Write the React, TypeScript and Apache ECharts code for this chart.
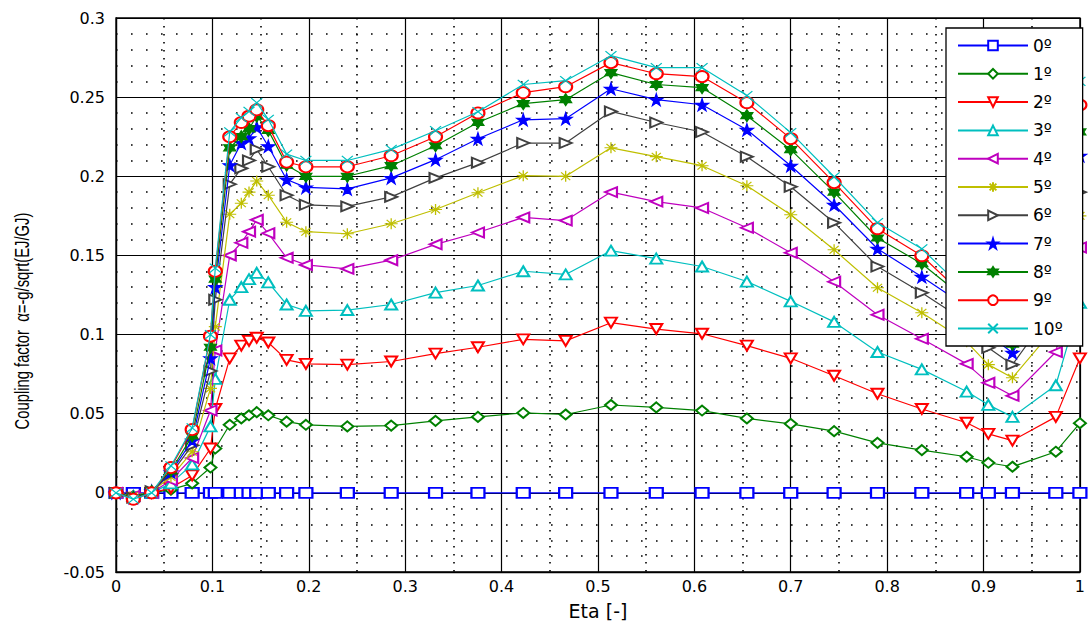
import React, { useEffect, useRef } from "react";
import * as echarts from "echarts";

// Spanwise stations (eta) shared by every curve
const ETA = [
  0, 0.018, 0.037, 0.057, 0.079, 0.098, 0.103, 0.118, 0.13, 0.138, 0.146,
  0.158, 0.177, 0.197, 0.24, 0.2855, 0.3315, 0.3755, 0.4225, 0.4665, 0.5135,
  0.5605, 0.608, 0.6545, 0.7, 0.745, 0.79, 0.836, 0.8825, 0.905, 0.93, 0.975,
  1.0,
];

// Coupling factor per fibre angle
const alpha0 = [
  0, 0, 0, 0, 0, 0, 0, 0, 0, 0, 0, 0, 0, 0, 0, 0, 0, 0, 0, 0, 0, 0, 0, 0, 0,
  0, 0, 0, 0, 0, 0, 0, 0,
];
const alpha1 = [
  0, -0.002, 0, 0.002, 0.006, 0.016, 0.028, 0.043, 0.047, 0.049, 0.051, 0.049,
  0.045, 0.043, 0.042, 0.0425, 0.0455, 0.048, 0.0505, 0.0495, 0.0555, 0.054,
  0.052, 0.047, 0.0436, 0.039, 0.0316, 0.027, 0.0228, 0.019, 0.0165, 0.026,
  0.044,
];
const alpha2 = [
  0, -0.003, 0, 0.003, 0.011, 0.028, 0.053, 0.085, 0.093, 0.096, 0.098, 0.095,
  0.084, 0.0815, 0.081, 0.083, 0.088, 0.092, 0.097, 0.096, 0.1075, 0.1035,
  0.1005, 0.093, 0.085, 0.074, 0.0626, 0.053, 0.0443, 0.0373, 0.033, 0.048,
  0.085,
];
const alpha3 = [
  0, -0.002, 0, 0.006, 0.018, 0.042, 0.072, 0.122, 0.13, 0.135, 0.139, 0.133,
  0.119, 0.115, 0.1155, 0.119, 0.1265, 0.131, 0.14, 0.138, 0.153, 0.148,
  0.143, 0.1335, 0.121, 0.108, 0.089, 0.078, 0.064, 0.0556, 0.048, 0.068,
  0.12,
];
const alpha4 = [
  0, -0.002, 0, 0.008, 0.022, 0.052, 0.09, 0.15, 0.158, 0.165, 0.1725, 0.164,
  0.1485, 0.144, 0.1415, 0.147, 0.157, 0.1645, 0.174, 0.172, 0.19, 0.184,
  0.18, 0.1675, 0.1517, 0.1334, 0.1125, 0.0973, 0.0815, 0.0695, 0.0613,
  0.089, 0.155,
];
const alpha5 = [
  0, -0.002, 0.001, 0.01, 0.026, 0.066, 0.105, 0.176, 0.183, 0.19, 0.197,
  0.188, 0.171, 0.165, 0.1637, 0.17, 0.179, 0.1896, 0.2004, 0.2, 0.218,
  0.2124, 0.2067, 0.194, 0.1757, 0.1536, 0.1296, 0.1138, 0.0954, 0.081,
  0.0727, 0.105, 0.175,
];
const alpha6 = [
  0, -0.003, 0.001, 0.012, 0.03, 0.077, 0.122, 0.195, 0.205, 0.21, 0.217,
  0.206, 0.188, 0.182, 0.181, 0.187, 0.199, 0.2086, 0.221, 0.221, 0.241,
  0.234, 0.228, 0.2124, 0.1934, 0.1707, 0.143, 0.1264, 0.108, 0.0917, 0.081,
  0.119, 0.19,
];
const alpha7 = [
  0, -0.003, 0.001, 0.013, 0.033, 0.085, 0.13, 0.207, 0.221, 0.224, 0.231,
  0.219, 0.198, 0.193, 0.192, 0.199, 0.2105, 0.2237, 0.2357, 0.2364, 0.2553,
  0.2484, 0.2452, 0.2294, 0.2067, 0.182, 0.1542, 0.1365, 0.1176, 0.1, 0.0885,
  0.135, 0.213,
];
const alpha8 = [
  0, -0.003, 0.001, 0.014, 0.036, 0.092, 0.135, 0.218, 0.225, 0.23, 0.238,
  0.229, 0.207, 0.2, 0.2, 0.2067, 0.2193, 0.234, 0.2459, 0.2484, 0.2655,
  0.258, 0.256, 0.2383, 0.2168, 0.19, 0.161, 0.1448, 0.122, 0.106, 0.094,
  0.145, 0.228,
];
const alpha9 = [
  0, -0.004, 0, 0.016, 0.04, 0.099, 0.14, 0.225, 0.234, 0.238, 0.242, 0.232,
  0.209, 0.206, 0.206, 0.213, 0.225, 0.24, 0.2528, 0.2566, 0.2718, 0.2648,
  0.263, 0.2465, 0.2238, 0.196, 0.1669, 0.1498, 0.123, 0.109, 0.0986, 0.152,
  0.245,
];
const alpha10 = [
  0, -0.004, 0, 0.017, 0.041, 0.1, 0.142, 0.228, 0.237, 0.241, 0.2465, 0.236,
  0.214, 0.21, 0.21, 0.217, 0.2288, 0.2408, 0.258, 0.2604, 0.2762, 0.2686,
  0.2686, 0.251, 0.2276, 0.1997, 0.1707, 0.1542, 0.127, 0.1138, 0.101, 0.158,
  0.26,
];

const ANGLE_LABELS = ["0º", "1º", "2º", "3º", "4º", "5º", "6º", "7º", "8º", "9º", "10º"];
const CURVES = [alpha0, alpha1, alpha2, alpha3, alpha4, alpha5, alpha6, alpha7, alpha8, alpha9, alpha10];

const COLORS = [
  "#0000ff", "#008000", "#ff0000", "#00bfbf", "#bf00bf", "#bfbf00",
  "#404040", "#0000ff", "#008000", "#ff0000", "#00bfbf",
];

const ASTERISK = "path://M5 0 L5 10 M0 5 L10 5 M1.5 1.5 L8.5 8.5 M1.5 8.5 L8.5 1.5";
const CROSS = "path://M0 0 L10 10 M0 10 L10 0";
const PENTAGRAM = "path://M50 0 L61 35 L98 35 L68 57 L79 91 L50 70 L21 91 L32 57 L2 35 L39 35 Z";
const HEXAGRAM = "path://M50 0 L64 25 L93 25 L79 50 L93 75 L64 75 L50 100 L36 75 L7 75 L21 50 L7 25 L36 25 Z";

type Marker = { symbol: string; size: number[]; rotate: number };
const MARKERS: Marker[] = [
  { symbol: "emptyRect", size: [13, 10], rotate: 0 },
  { symbol: "emptyDiamond", size: [12, 10], rotate: 0 },
  { symbol: "emptyTriangle", size: [12, 10], rotate: 180 },
  { symbol: "emptyTriangle", size: [12, 10], rotate: 0 },
  { symbol: "emptyTriangle", size: [10, 12], rotate: 90 },
  { symbol: ASTERISK, size: [13, 11], rotate: 0 },
  { symbol: "emptyTriangle", size: [10, 12], rotate: -90 },
  { symbol: PENTAGRAM, size: [13, 12], rotate: 0 },
  { symbol: HEXAGRAM, size: [12, 12], rotate: 0 },
  { symbol: "emptyCircle", size: [13, 11], rotate: 0 },
  { symbol: CROSS, size: [11, 9], rotate: 0 },
];

const FONT = "'DejaVu Sans', 'Liberation Sans', Arial, sans-serif";

export default function App() {
  const ref = useRef<HTMLDivElement>(null);

  useEffect(() => {
    if (!ref.current) return;
    const chart = echarts.init(ref.current, undefined, { renderer: "svg" });

    const series = CURVES.map((vals, i) => {
      const color = COLORS[i];
      const m = MARKERS[i];
      return {
        name: ANGLE_LABELS[i],
        type: "line",
        data: ETA.map((x, k) => [x, vals[k]]),
        symbol: m.symbol,
        symbolSize: m.size,
        symbolRotate: m.rotate,
        showAllSymbol: true,
        lineStyle: { color, width: 1.2 },
        itemStyle: { color, borderColor: color, borderWidth: 1.2 },
        emphasis: { disabled: true },
        z: 2 + i * 0.01,
      };
    });

    chart.setOption({
      animation: false,
      backgroundColor: "#ffffff",
      grid: {
        left: 116,
        top: 18,
        width: 971,
        height: 554,
        show: true,
        borderColor: "#000",
        borderWidth: 1.3,
        backgroundColor: "transparent",
      },
      xAxis: {
        type: "value",
        min: 0,
        max: 1,
        interval: 0.1,
        axisLine: { show: true, onZero: false, lineStyle: { color: "#000", width: 1.3 } },
        axisTick: { show: false },
        axisLabel: { color: "#000", fontSize: 16, fontFamily: FONT, margin: 6 },
        splitLine: { show: true, lineStyle: { color: "#000", width: 1.2 } },
        minorTick: { show: false, splitNumber: 2 },
        minorSplitLine: { show: true, lineStyle: { color: "#000", width: 1.6, type: [1.6, 6.4] } },
      },
      yAxis: {
        type: "value",
        min: -0.05,
        max: 0.3,
        interval: 0.05,
        axisLine: { show: true, onZero: false, lineStyle: { color: "#000", width: 1.3 } },
        axisTick: { show: false },
        axisLabel: { color: "#000", fontSize: 16, fontFamily: FONT, margin: 11 },
        splitLine: { show: true, lineStyle: { color: "#000", width: 1.2 } },
        minorTick: { show: false, splitNumber: 5 },
        minorSplitLine: { show: true, lineStyle: { color: "#000", width: 1.6, type: [1.6, 13.4] } },
      },
      legend: {
        orient: "vertical",
        left: 946,
        top: 28,
        padding: [9, 20, 9, 11],
        itemWidth: 70,
        itemHeight: 12,
        itemGap: 11.3,
        backgroundColor: "#ffffff",
        borderColor: "#000",
        borderWidth: 1.3,
        borderRadius: 0,
        textStyle: { color: "#000", fontSize: 17, fontFamily: FONT },
        data: ANGLE_LABELS,
        selectedMode: false,
      },
      graphic: [
        {
          type: "text",
          x: 22,
          y: 321,
          rotation: Math.PI / 2,
          scaleX: 0.74,
          style: {
            text: "Coupling factor  α=-g/sqrt(EJ/GJ)",
            fill: "#000",
            font: "20px 'Liberation Sans', Arial, sans-serif",
            textAlign: "center",
            textVerticalAlign: "middle",
          },
        },
        {
          type: "text",
          x: 598,
          y: 611,
          style: {
            text: "Eta [-]",
            fill: "#000",
            font: `19px ${FONT}`,
            textAlign: "center",
            textVerticalAlign: "middle",
          },
        },
      ],
      series,
    });

    return () => chart.dispose();
  }, []);

  return (
    <div
      ref={ref}
      style={{ position: "fixed", left: 0, top: 0, width: 1088, height: 626 }}
    />
  );
}
